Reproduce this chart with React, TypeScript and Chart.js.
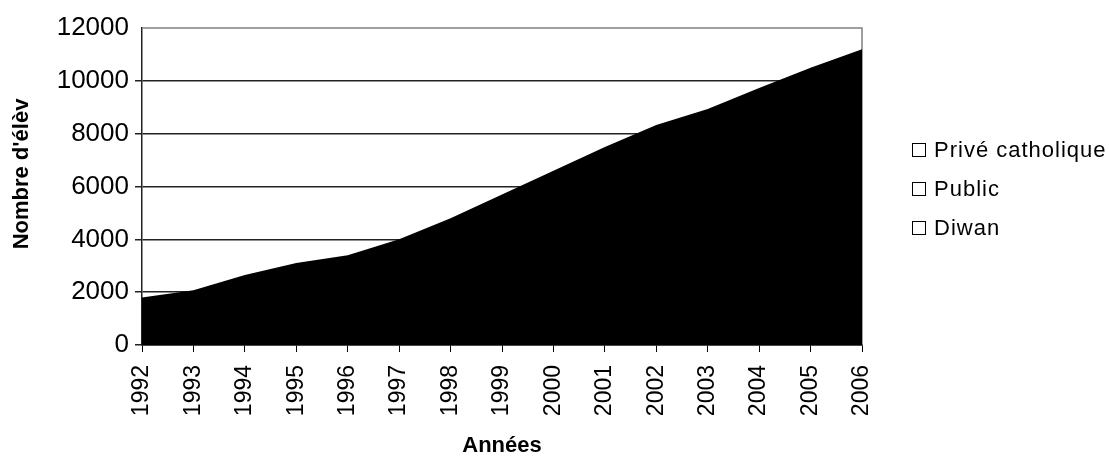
import React, { useEffect, useRef } from "react";
import { Chart, registerables } from "chart.js";

Chart.register(...registerables);

const years = ["1992", "1993", "1994", "1995", "1996", "1997", "1998", "1999", "2000", "2001", "2002", "2003", "2004", "2005", "2006"];
const diwan = [870, 1000, 1200, 1400, 1560, 1730, 1900, 2050, 2190, 2400, 2570, 2710, 2850, 2960, 3080];
const publicS = [600, 650, 800, 950, 1000, 1230, 1550, 1950, 2350, 2700, 3060, 3250, 3600, 3900, 4170];
const prive = [330, 420, 650, 750, 840, 1040, 1350, 1700, 2060, 2400, 2700, 2970, 3280, 3640, 3950];
const legendLabels = ["Privé catholique", "Public", "Diwan"];
const yTicks = [0, 2000, 4000, 6000, 8000, 10000, 12000];
const yTitle = "Nombre d'élèv";
const xTitle = "Années";

const FONT = "'Liberation Sans', Arial, sans-serif";

export default function App() {
  const ref = useRef<HTMLCanvasElement | null>(null);
  useEffect(() => {
    if (!ref.current) return;
    const decor = {
      id: "decor",
      beforeDatasetsDraw(chart: any) {
        const { ctx, chartArea } = chart;
        ctx.save();
        ctx.strokeStyle = "#808080";
        ctx.lineWidth = 1.5;
        ctx.beginPath();
        ctx.moveTo(chartArea.left, chartArea.top);
        ctx.lineTo(chartArea.right, chartArea.top);
        ctx.lineTo(chartArea.right, chartArea.bottom);
        ctx.stroke();
        ctx.restore();
      },
      afterDraw(chart: any) {
        const { ctx, chartArea } = chart;
        ctx.save();
        ctx.fillStyle = "#000";
        ctx.font = `bold 22px ${FONT}`;
        ctx.textAlign = "center";
        ctx.textBaseline = "middle";
        ctx.fillText(xTitle, (chartArea.left + chartArea.right) / 2, 446);
        ctx.save();
        ctx.translate(22, 174);
        ctx.rotate(-Math.PI / 2);
        ctx.fillText(yTitle, 0, 0);
        ctx.restore();
        // legend
        ctx.font = `22px ${FONT}`;
        (ctx as any).letterSpacing = "1px";
        ctx.textAlign = "left";
        const ys = [150, 189, 228];
        legendLabels.forEach((lab, i) => {
          const y = ys[i];
          ctx.fillStyle = "#fff";
          ctx.fillRect(912.5, y - 6.5, 13, 13);
          ctx.strokeStyle = "#000";
          ctx.lineWidth = 1;
          ctx.strokeRect(912.5, y - 6.5, 13, 13);
          ctx.fillStyle = "#000";
          ctx.fillText(lab, 934, y + 1);
        });
        ctx.restore();
      },
    };
    const ds = (label: string, data: number[]) => ({
      label,
      data,
      fill: "origin",
      backgroundColor: "#000",
      borderColor: "#000",
      borderWidth: 0,
      pointRadius: 0,
      tension: 0,
    });
    const chart = new Chart(ref.current, {
      type: "line",
      data: {
        labels: years,
        datasets: [ds("Diwan", diwan), ds("Public", publicS), ds("Privé catholique", prive)],
      },
      options: {
        responsive: false,
        animation: false,
        layout: { padding: { left: 0, top: 28, right: 247, bottom: 0 } },
        plugins: { legend: { display: false }, tooltip: { enabled: false }, title: { display: false } },
        scales: {
          x: {
            type: "category",
            offset: false,
            afterFit(scale: any) { scale.height = 111; },
            grid: { display: true, drawOnChartArea: false, drawTicks: true, tickLength: 7, color: "#000", lineWidth: 1 },
            border: { display: true, color: "#000", width: 1.5 },
            ticks: { color: "#000", font: { family: FONT, size: 23 }, minRotation: 90, maxRotation: 90, padding: 13, autoSkip: false },
          },
          y: {
            stacked: true,
            min: 0,
            max: 12000,
            afterFit(scale: any) { scale.width = 142; },
            afterBuildTicks(scale: any) { scale.ticks = yTicks.map((v) => ({ value: v })); },
            grid: {
              color: (c: any) => (c.tick && c.tick.value === 12000 ? "rgba(0,0,0,0)" : "#222"),
              lineWidth: 1.5,
              tickLength: 7,
              drawTicks: true,
            },
            border: { display: true, color: "#222", width: 1.5 },
            ticks: { color: "#000", font: { family: FONT, size: 26 }, padding: 6, callback: (v: any) => String(v) },
          },
        },
      },
      plugins: [decor],
    });
    return () => chart.destroy();
  }, []);
  return (
    <div style={{ position: "absolute", left: 0, top: 0, width: 1109, height: 456, background: "#fff" }}>
      <canvas ref={ref} width={1109} height={456} style={{ width: 1109, height: 456 }} />
    </div>
  );
}
